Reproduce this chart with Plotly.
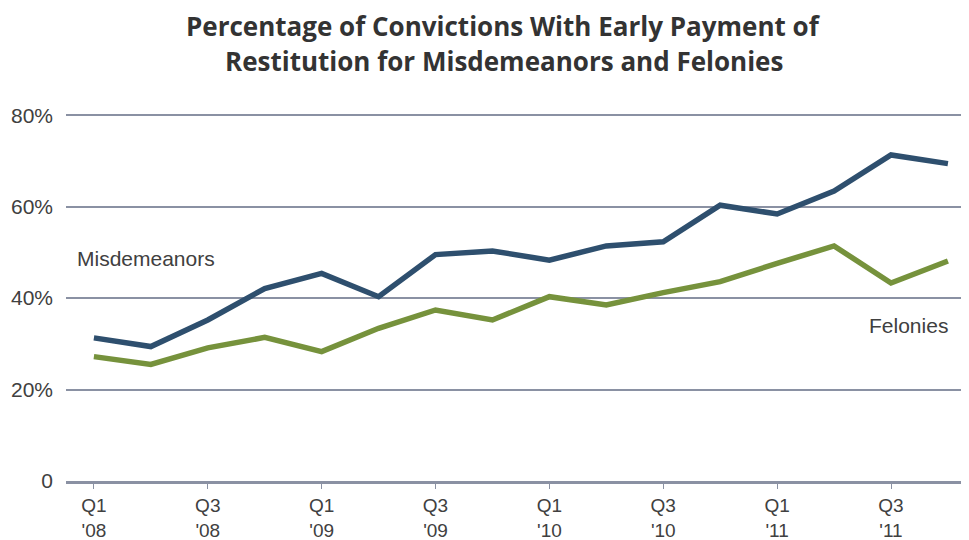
import plotly.graph_objects as go

quarters = ["Q1 '08", "Q2 '08", "Q3 '08", "Q4 '08", "Q1 '09", "Q2 '09", "Q3 '09", "Q4 '09",
            "Q1 '10", "Q2 '10", "Q3 '10", "Q4 '10", "Q1 '11", "Q2 '11", "Q3 '11", "Q4 '11"]
misdemeanors = [31.3, 29.4, 35.2, 42.1, 45.4, 40.3, 49.5, 50.3,
                48.3, 51.4, 52.3, 60.3, 58.4, 63.4, 71.3, 69.4]
felonies = [27.2, 25.5, 29.1, 31.4, 28.3, 33.4, 37.4, 35.2,
            40.3, 38.5, 41.2, 43.6, 47.6, 51.4, 43.3, 48.1]
tick_idx = [0, 2, 4, 6, 8, 10, 12, 14]
tick_text = ["Q1<br>'08", "Q3<br>'08", "Q1<br>'09", "Q3<br>'09",
             "Q1<br>'10", "Q3<br>'10", "Q1<br>'11", "Q3<br>'11"]
y_ticks = [0, 20, 40, 60, 80]
y_text = ["0", "20%", "40%", "60%", "80%"]
title_lines = ["Percentage of Convictions With Early Payment of",
               "Restitution for Misdemeanors and Felonies"]

x = list(range(len(quarters)))
blue = "#2e4f6e"
green = "#76923c"
grid = "#8a91a3"
txt = "#404040"

fig = go.Figure()
fig.add_trace(go.Scatter(x=x, y=misdemeanors, mode="lines", name="Misdemeanors",
                         line=dict(color=blue, width=5.5), hoverinfo="y"))
fig.add_trace(go.Scatter(x=x, y=felonies, mode="lines", name="Felonies",
                         line=dict(color=green, width=5.5), hoverinfo="y"))

fig.add_annotation(x=-0.33, y=48.7, xref="x", yref="y", text="Misdemeanors", showarrow=False,
                   xanchor="left", font=dict(family="Liberation Sans, Arial", size=21, color=txt))
fig.add_annotation(x=15.04, y=33.9, xref="x", yref="y", text="Felonies", showarrow=False,
                   xanchor="right", font=dict(family="Liberation Sans, Arial", size=21, color=txt))

for yy, line in zip([1.2133, 1.1207], title_lines):
    fig.add_annotation(x=0.485, y=yy, xref="paper", yref="paper", text=line, showarrow=False,
                       xanchor="center", yanchor="middle",
                       font=dict(family="Open Sans", size=26, color="#333333", weight="bold"))

fig.update_layout(
    width=961, height=532,
    margin=dict(l=58, r=0, t=98, b=59),
    paper_bgcolor="white", plot_bgcolor="white",
    showlegend=False,
    font=dict(family="Liberation Sans, Arial", size=18, color=txt),
)
fig.update_xaxes(range=[-0.49, 15.37], tickvals=tick_idx, ticktext=tick_text,
                 showgrid=False, zeroline=False, showline=True, linecolor=grid, linewidth=3,
                 ticks="outside", ticklen=5, tickcolor=grid, tickwidth=1,
                 tickfont=dict(family="Liberation Sans Narrow, Liberation Sans, Arial", size=19, color=txt))
fig.update_yaxes(range=[0, 82], tickvals=y_ticks, ticktext=y_text,
                 showgrid=True, gridcolor=grid, gridwidth=2, zeroline=False,
                 ticks="", ticklabelstandoff=12,
                 tickfont=dict(family="Liberation Sans, Arial", size=21, color=txt))

fig.write_html("out.html")
